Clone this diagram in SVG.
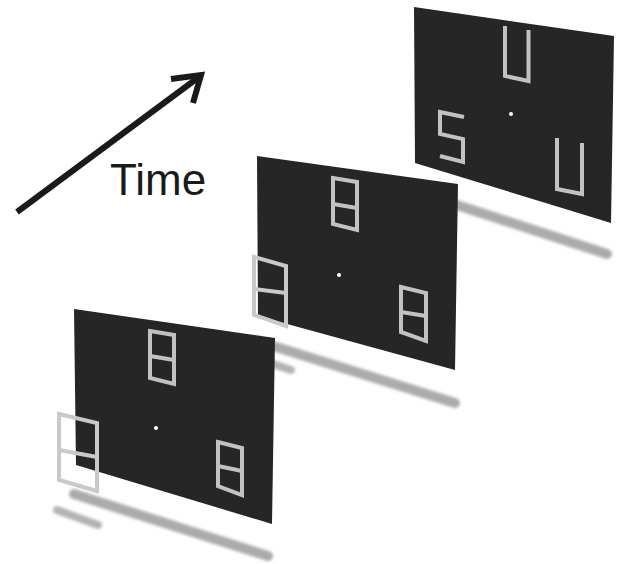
<svg xmlns="http://www.w3.org/2000/svg" width="622" height="564" viewBox="0 0 622 564">
  <style>
    .panel { fill: #262626; }
    .seg { fill: none; stroke: #c2c2c2; stroke-width: 4; stroke-linejoin: miter; }
    .seg-out { fill: none; stroke: #c9c9c9; stroke-width: 4; stroke-linejoin: miter; }
    .dot { fill: #ffffff; }
    .shadow { stroke: #ababab; stroke-width: 10; stroke-linecap: round; fill: none; filter: url(#blur); }
    .shadow-s { stroke: #b3b3b3; stroke-width: 8; stroke-linecap: round; fill: none; filter: url(#blur); }
    .arrow { fill: none; stroke: #1a1a1a; stroke-width: 6; }
    .label { font-family: "Liberation Sans", Arial, sans-serif; font-size: 44px; fill: #1a1a1a; }
  </style>
  <defs>
    <filter id="blur" x="-20%" y="-50%" width="140%" height="200%">
      <feGaussianBlur stdDeviation="1.5"/>
    </filter>
  </defs>
  <rect width="622" height="564" fill="#ffffff"/>

  <!-- Frame 3 (back) -->
  <g id="frame3">
    <line class="shadow" x1="414" y1="191" x2="607" y2="254"/>
    <polygon class="panel" points="414,7 614,36 611,223 415,163"/>
    <polyline class="seg" points="505,26 505,76 528.5,81 528.5,30"/>
    <polyline class="seg" points="464,117 440,112 440,134 463,139 463,162 440,156"/>
    <polyline class="seg" points="557,138 557,189 582,194 582,143"/>
    <circle class="dot" cx="511" cy="114" r="2"/>
  </g>

  <!-- Frame 2 (middle) -->
  <g id="frame2">
    <line class="shadow" x1="257" y1="341" x2="455" y2="403"/>
    <line class="shadow-s" x1="252" y1="357" x2="291" y2="370"/>
    <polygon class="panel" points="257,156 458,184 455,370 258,316"/>
    <polygon class="seg" points="333,178 357,182 357,230 333,224"/>
    <line class="seg" x1="333" y1="204" x2="357" y2="208"/>
    <polygon class="seg" points="401,287 426,293 426,341 401,332"/>
    <line class="seg" x1="401" y1="312" x2="426" y2="316"/>
    <circle class="dot" cx="339" cy="275" r="2"/>
    <polygon class="seg-out" points="254,257 286,266 286,326 254,315"/>
    <line class="seg-out" x1="254" y1="289" x2="286" y2="293"/>
  </g>

  <!-- Frame 1 (front) -->
  <g id="frame1">
    <line class="shadow" x1="74" y1="494" x2="268" y2="556"/>
    <line class="shadow-s" x1="57" y1="510" x2="98" y2="525"/>
    <polygon class="panel" points="74,309 275,338 272,524 76,465"/>
    <polygon class="seg" points="150,331 174,335 174,384 150,378"/>
    <line class="seg" x1="150" y1="356" x2="174" y2="360"/>
    <polygon class="seg" points="218,442 242,448 242,495 218,486"/>
    <line class="seg" x1="218" y1="466" x2="242" y2="471"/>
    <circle class="dot" cx="156" cy="428" r="2"/>
    <polygon class="seg-out" points="59,414 97,423 97,491 59,480"/>
    <line class="seg-out" x1="59" y1="450" x2="97" y2="457"/>
  </g>

  <!-- Time arrow -->
  <g id="connectors">
    <line class="arrow" x1="17" y1="212" x2="199" y2="77"/>
    <polyline class="arrow" points="171,79 201,75 193,103"/>
  </g>
  <g id="time-label">
    <text class="label" x="110" y="195">Time</text>
  </g>
</svg>
